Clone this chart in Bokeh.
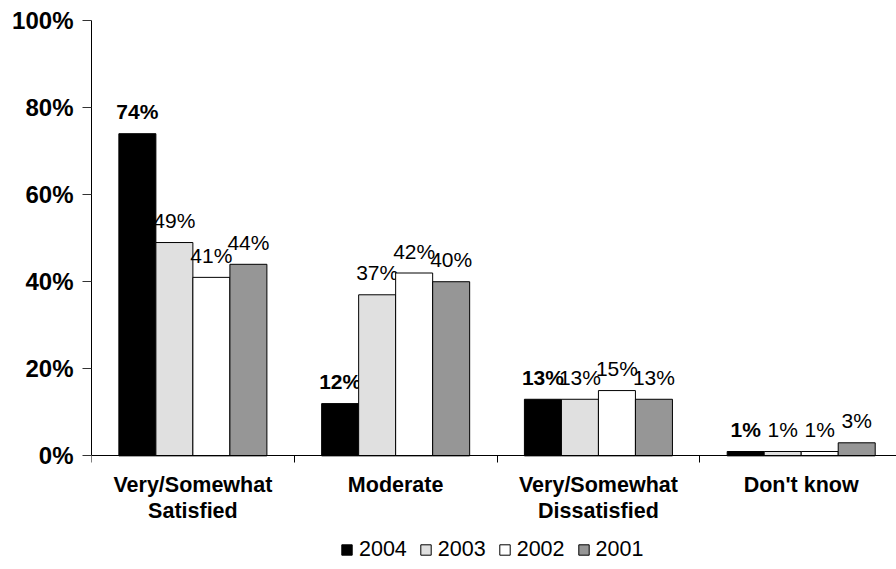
import numpy as np
from bokeh.plotting import figure
from bokeh.models import Range1d, FixedTicker, PrintfTickFormatter, Legend, LegendItem
from bokeh.core.properties import value
from bokeh.embed import file_html
from bokeh.resources import INLINE

categories = ["Very/Somewhat\nSatisfied", "Moderate", "Very/Somewhat\nDissatisfied", "Don't know"]
years = ["2004", "2003", "2002", "2001"]
v2004 = [74, 12, 13, 1]
v2003 = [49, 37, 13, 1]
v2002 = [41, 42, 15, 1]
v2001 = [44, 40, 13, 3]
y_ticks = [0, 20, 40, 60, 80, 100]

series = [v2004, v2003, v2002, v2001]
colors = ["#000000", "#E0E0E0", "#FFFFFF", "#969696"]
FONT = "Liberation Sans"

p = figure(width=896, height=569, output_backend="svg", toolbar_location=None,
           x_range=Range1d(0, 3.97), y_range=Range1d(-26.1, 100),
           min_border_left=91, min_border_right=0, min_border_top=20, min_border_bottom=0)
p.outline_line_color = None
p.xgrid.visible = False
p.ygrid.visible = False
p.background_fill_color = "white"
p.border_fill_color = "white"

n = len(categories)
centers = np.arange(n) + 0.5
bw = 0.1825
offsets = [(-1.5 + k) * bw for k in range(4)]

items = []
for k, (yr, vals, col) in enumerate(zip(years, series, colors)):
    xs = centers + offsets[k]
    r = p.vbar(x=xs, top=vals, width=bw, fill_color=col, line_color="#000000", line_width=1)
    items.append(LegendItem(label=yr, renderers=[r]))
    p.text(x=xs, y=vals, text=[f"{v}%" for v in vals], text_font=value(FONT),
           text_font_size="21px", text_font_style="bold" if k == 0 else "normal",
           text_align="center", text_baseline="alphabetic", y_offset=-22, text_color="#000000")

# x axis, pinned at y = 0 inside the frame
xa = p.xaxis[0]
xa.fixed_location = 0
xa.ticker = FixedTicker(ticks=list(centers), minor_ticks=list(range(n + 1)))
xa.major_label_overrides = {float(c): lab for c, lab in zip(centers, categories)}
xa.major_tick_line_color = None
xa.major_tick_out = 0
xa.minor_tick_out = 7
xa.minor_tick_in = 0
xa.minor_tick_line_color = "#000000"
xa.axis_line_color = "#000000"
xa.major_label_text_font = FONT
xa.major_label_text_font_size = "21.5px"
xa.major_label_text_font_style = "bold"
xa.major_label_text_color = "#000000"
xa.major_label_text_line_height = 1.1
xa.major_label_standoff = 10

ya = p.yaxis[0]
ya.bounds = (0, 100)
ya.ticker = FixedTicker(ticks=y_ticks)
ya.formatter = PrintfTickFormatter(format="%d%%")
ya.major_tick_out = 9
ya.major_tick_in = 0
ya.minor_tick_line_color = None
ya.major_tick_line_color = "#333333"
ya.axis_line_color = "#000000"
ya.major_label_text_font = FONT
ya.major_label_text_font_size = "24px"
ya.major_label_text_font_style = "bold"
ya.major_label_text_color = "#000000"
ya.major_label_standoff = 9

legend = Legend(items=items, orientation="horizontal", location=(249, 7),
                glyph_width=13, glyph_height=13, label_standoff=6, spacing=12,
                padding=0, margin=0, border_line_color=None, background_fill_alpha=0,
                label_text_font=FONT, label_text_font_size="21.5px", label_text_color="#000000")
p.add_layout(legend, "center")

open("out.html", "w").write(file_html(p, INLINE))
